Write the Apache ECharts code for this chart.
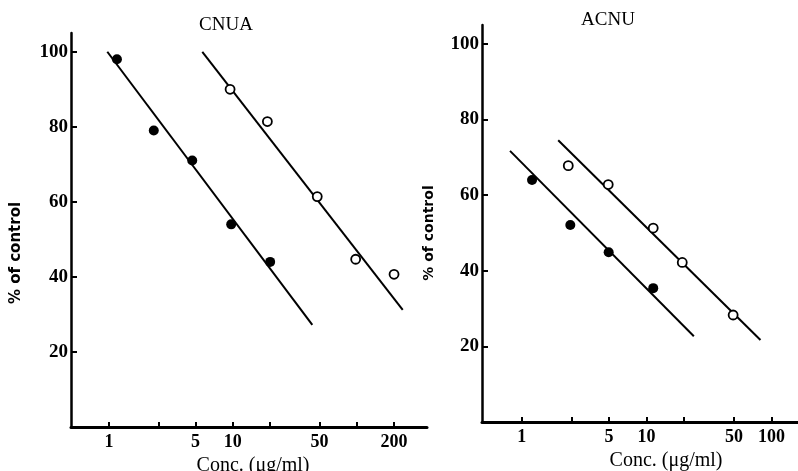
<!DOCTYPE html>
<html><head><meta charset="utf-8">
<script src="https://cdn.jsdelivr.net/npm/echarts@6/dist/echarts.min.js"></script>
<style>html,body{margin:0;padding:0;background:#fff}#c{width:798px;height:471px}</style>
</head><body><div id="c"></div>
<script>
// CNUA panel
var cnuaFilledX = [1.16, 2.3, 4.7, 9.7, 20];
var cnuaFilledY = [98, 79, 71, 54, 44];
var cnuaOpenX = [9.5, 19, 48, 98, 200];
var cnuaOpenY = [90, 81.4, 61.4, 44.7, 40.7];
var cnuaFilledLineX = [0.97, 43.8];
var cnuaFilledLineY = [100, 27.2];
var cnuaOpenLineX = [5.67, 235];
var cnuaOpenLineY = [100, 31.2];
// ACNU panel
var acnuFilledX = [1.21, 2.45, 4.97, 11.3];
var acnuFilledY = [64.0, 52.1, 44.9, 35.4];
var acnuOpenX = [2.36, 4.93, 11.3, 19.3, 49.3];
var acnuOpenY = [67.8, 62.8, 51.3, 42.2, 28.3];
var acnuFilledLineX = [0.806, 23.9];
var acnuFilledLineY = [71.7, 22.7];
var acnuOpenLineX = [1.96, 81.6];
var acnuOpenLineY = [74.5, 21.7];
// ticks
var cnuaTicks = [1, 2.5, 5, 10, 20, 50, 100, 200];
var cnuaLabels = [1, 5, 10, 50, 200];
var acnuTicks = [1, 2.5, 5, 10, 20, 50, 100];
var acnuLabels = [1, 5, 10, 50, 100];
var yTicks = [20, 40, 60, 80, 100];
var titles = ['CNUA', 'ACNU'];
var xName = 'Conc. (\u03bcg/ml)';
var yName = '% of control';

function pairs(xs, ys){ return xs.map(function(x,i){ return [x, ys[i]]; }); }
var serif = '"Liberation Serif","DejaVu Serif",serif';
function xAxis(idx, min, max, ticks, labels, pad){
  return {
    type: 'log', gridIndex: idx, min: min, max: max, logBase: 10,
    axisLine: {show: true, lineStyle: {color: '#000', width: 3}},
    axisTick: {show: true, inside: true, length: 5, lineStyle: {color: '#000', width: 2}, customValues: ticks},
    axisLabel: {show: true, customValues: labels, color: '#000', fontFamily: serif, fontWeight: 'bold', fontSize: 18, margin: 6,
      formatter: function(v){ return String(+(+v).toPrecision(3)); }},
    splitLine: {show: false}, minorTick: {show: false},
    name: xName, nameLocation: 'middle', nameGap: 26,
    nameTextStyle: {color: '#000', fontFamily: serif, fontSize: 20, padding: pad}
  };
}
function yAxis(idx, gap, fs, pad){
  return {
    type: 'value', gridIndex: idx, min: 0, max: 105,
    axisLine: {show: true, lineStyle: {color: '#000', width: 2.5}},
    axisTick: {show: true, inside: true, length: 6, lineStyle: {color: '#000', width: 2}, customValues: yTicks},
    axisLabel: {show: true, customValues: yTicks, color: '#000', fontFamily: serif, fontWeight: 'bold', fontSize: 19, margin: 3},
    splitLine: {show: false},
    name: yName, nameLocation: 'middle', nameRotate: 90, nameGap: gap,
    nameTextStyle: {color: '#000', fontFamily: '"DejaVu Sans",sans-serif', fontWeight: 'bold', fontSize: fs, padding: pad}
  };
}
function line(idx, xs, ys){
  return {type: 'line', xAxisIndex: idx, yAxisIndex: idx, data: pairs(xs, ys), symbol: 'none',
    lineStyle: {color: '#000', width: 2}, silent: true, z: 2};
}
function filled(idx, xs, ys){
  return {type: 'scatter', xAxisIndex: idx, yAxisIndex: idx, data: pairs(xs, ys), symbol: 'circle', symbolSize: 10,
    itemStyle: {color: '#000', opacity: 1}, z: 3};
}
function open(idx, xs, ys){
  return {type: 'scatter', xAxisIndex: idx, yAxisIndex: idx, data: pairs(xs, ys), symbol: 'circle', symbolSize: 9,
    itemStyle: {color: '#fff', borderColor: '#000', borderWidth: 1.8, opacity: 1}, z: 3};
}
var chart = echarts.init(document.getElementById('c'), null, {renderer: 'canvas'});
chart.setOption({
  animation: false,
  backgroundColor: '#fff',
  title: [
    {text: titles[0], left: 221, top: 11, textAlign: 'center', textStyle: {fontFamily: serif, fontWeight: 'normal', fontSize: 19, color: '#000'}},
    {text: titles[1], left: 603, top: 6, textAlign: 'center', textStyle: {fontFamily: serif, fontWeight: 'normal', fontSize: 19, color: '#000'}}
  ],
  grid: [
    {left: 71, top: 33, width: 356, bottom: 44, containLabel: false, outerBoundsMode: 'none'},
    {left: 482, top: 25, right: 0, bottom: 49, containLabel: false, outerBoundsMode: 'none'}
  ],
  xAxis: [
    xAxis(0, 0.494, 369, cnuaTicks, cnuaLabels, [0, 0, 0, 8]),
    xAxis(1, 0.481, 163, acnuTicks, acnuLabels, [0, 0, 0, 52])
  ],
  yAxis: [yAxis(0, 47, 15, [0, 46, 0, 0]), yAxis(1, 46, 14, [0, 19, 0, 0])],
  series: [
    line(0, cnuaFilledLineX, cnuaFilledLineY),
    line(0, cnuaOpenLineX, cnuaOpenLineY),
    filled(0, cnuaFilledX, cnuaFilledY),
    open(0, cnuaOpenX, cnuaOpenY),
    line(1, acnuFilledLineX, acnuFilledLineY),
    line(1, acnuOpenLineX, acnuOpenLineY),
    filled(1, acnuFilledX, acnuFilledY),
    open(1, acnuOpenX, acnuOpenY)
  ]
});
</script></body></html>
